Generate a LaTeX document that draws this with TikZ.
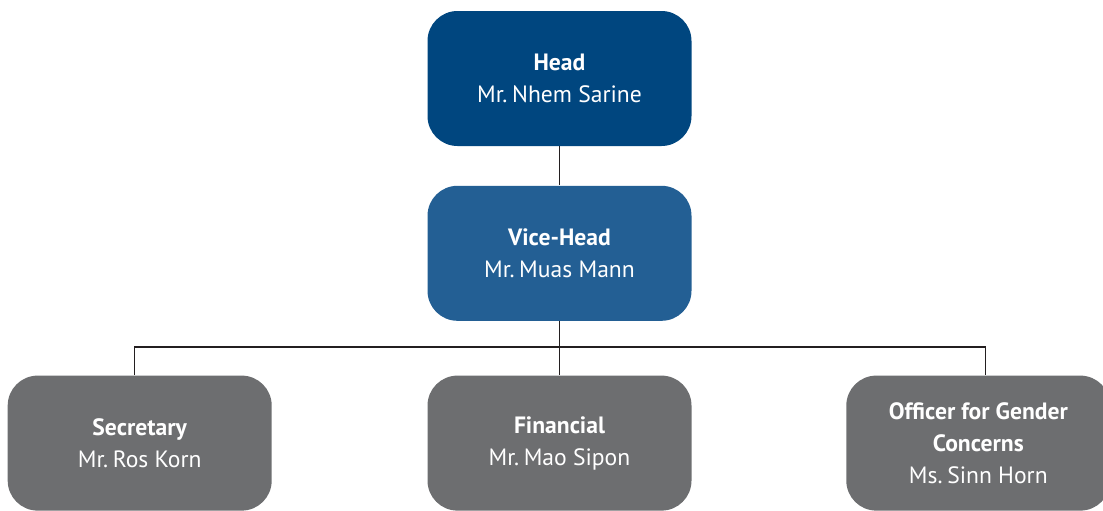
\documentclass[tikz,border=0pt]{standalone}
\usepackage{fontspec}
\setmainfont{PT Sans}
\usetikzlibrary{positioning}
\definecolor{headblue}{HTML}{00467F}
\definecolor{viceblue}{HTML}{235F94}
\definecolor{staffgray}{HTML}{6D6E70}
\definecolor{linegray}{HTML}{231F20}
\newcommand{\Tit}[1]{\textbf{#1}}
\tikzstyle{unit} = [rectangle, rounded corners=15pt, minimum width=132pt, minimum height=67.5pt, text=white, align=center, inner sep=0pt, font=\fontsize{11.8}{16}\selectfont]
\tikzstyle{link} = [draw=linegray, line width=0.65pt]

\begin{document}
\begin{tikzpicture}[x=0.5pt, y=-0.5pt]
\useasboundingbox (0,0) rectangle (1103,510);
\clip (0,0) rectangle (1103,510);

% Define nodes
\node[unit, fill=headblue]                       (head) at (559.5,78.5) {\Tit{Head}\\Mr.\hspace{0.2em}Nhem Sarine};
\node[unit, fill=viceblue, below = 19.5pt of head] (vice) {\Tit{Vice-Head}\\Mr.\hspace{0.2em}Muas Mann};
\node[unit, fill=staffgray, below = 27pt of vice]  (fin)  {\Tit{Financial}\\Mr.\hspace{0.2em}Mao Sipon};
\node[unit, fill=staffgray, left = 77.5pt of fin]   (sec)  {\Tit{Secretary}\\Mr.\hspace{0.2em}Ros Korn};
\node[unit, fill=staffgray, right = 77pt of fin]    (off)  {\Tit{Officer for Gender}\\\Tit{Concerns}\\Ms.\hspace{0.2em}Sinn Horn};
\coordinate (bus) at (559.5,347);

% Edges
\draw[link] (head) -- (vice);
\draw[link] (vice) -- (fin);
\draw[link] ([xshift=-2.5pt]sec.north) |- (bus) -| ([xshift=3.5pt]off.north);
\end{tikzpicture}
\end{document}
